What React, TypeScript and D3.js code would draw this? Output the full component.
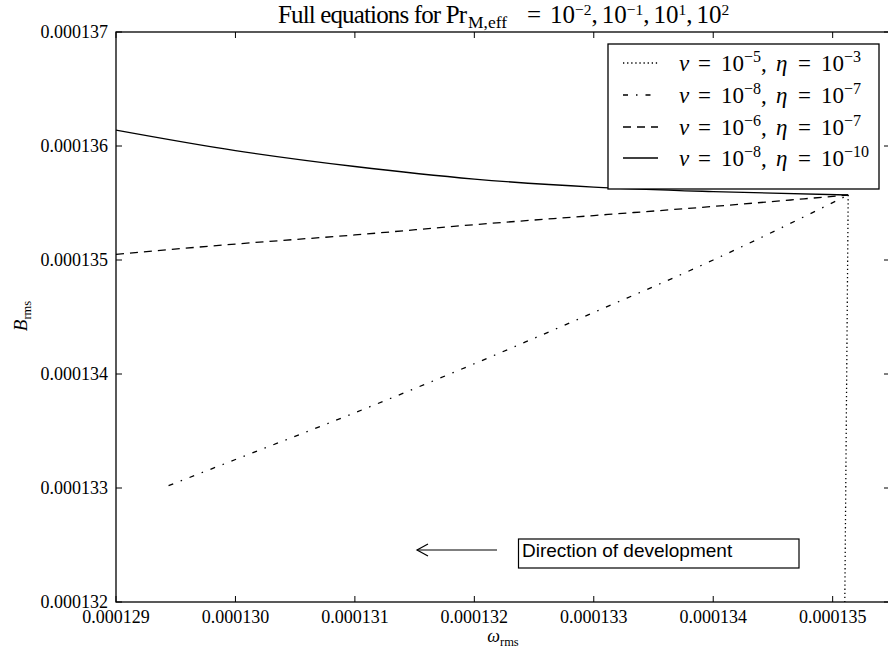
import React from "react";
import * as d3 from "d3";

// Axis ticks
const xTicks = [0.000129, 0.00013, 0.000131, 0.000132, 0.000133, 0.000134, 0.000135];
const yTicks = [0.000132, 0.000133, 0.000134, 0.000135, 0.000136, 0.000137];

// Series: nu=1e-5, eta=1e-3 (dotted)
const dottedX = [0.00013513, 0.0001351];
const dottedY = [0.00013557, 0.0001318];

// Series: nu=1e-8, eta=1e-7 (dash-dot)
const dashDotX = [0.00012944, 0.00013, 0.000131, 0.000132, 0.000133, 0.000134, 0.00013513];
const dashDotY = [0.00013302, 0.00013325, 0.00013366, 0.00013409, 0.00013454, 0.000135, 0.00013557];

// Series: nu=1e-6, eta=1e-7 (dashed)
const dashedX = [0.000129, 0.00013, 0.000131, 0.000132, 0.000133, 0.000134, 0.00013513];
const dashedY = [0.00013505, 0.00013514, 0.00013522, 0.00013531, 0.00013539, 0.00013547, 0.00013557];

// Series: nu=1e-8, eta=1e-10 (solid)
const solidX = [0.000129, 0.00013, 0.000131, 0.000132, 0.000133, 0.000134, 0.00013513];
const solidY = [0.00013614, 0.00013596, 0.00013582, 0.00013571, 0.00013564, 0.0001356, 0.00013557];

// Legend entries: exponents of nu and eta, and line dash pattern
const legendNu = ["−5", "−8", "−6", "−8"];
const legendEta = ["−3", "−7", "−7", "−10"];
const dashes = ["1.3,2.8", "5,8,1.5,8", "8,6", ""];

// Title exponents
const titleExps = ["−2", "−1", "1", "2"];

const SERIF = "'Liberation Serif', 'Times New Roman', serif";
const SANS = "'Liberation Sans', Arial, sans-serif";

const W = 888;
const H = 658;
const left = 116;
const right = 890;
const top = 32;
const bottom = 602;

export default function App() {
  const x = d3.scaleLinear().domain([0.000129, 0.00013548]).range([left, right]);
  const y = d3.scaleLinear().domain([0.000132, 0.000137]).range([bottom, top]);
  const fmt = d3.format(".6f");

  const mkLine = (xs: number[], ys: number[], curve: d3.CurveFactory) =>
    d3
      .line<number>()
      .x((_, i) => x(xs[i]))
      .y((v) => y(v))
      .curve(curve)(ys) || "";

  const series = [
    { d: mkLine(dottedX, dottedY, d3.curveLinear), dash: dashes[0] },
    { d: mkLine(dashDotX, dashDotY, d3.curveMonotoneX), dash: dashes[1] },
    { d: mkLine(dashedX, dashedY, d3.curveMonotoneX), dash: dashes[2] },
    { d: mkLine(solidX, solidY, d3.curveMonotoneX), dash: dashes[3] },
  ];

  const tickLen = 6;
  const lgX = 608;
  const lgY = 44;
  const lgW = 271;
  const lgH = 145;
  const rowY = [63, 95, 127, 158];

  const tFs = 25;
  const tSup = 15.5;
  const lFs = 23;
  const lSup = 16;

  return (
    <svg
      width={W}
      height={H}
      style={{ position: "absolute", left: 0, top: 0, background: "#fff", fontFamily: SERIF }}
    >
      <defs>
        <clipPath id="plotClip">
          <rect x={left} y={top} width={right - left} height={bottom - top} />
        </clipPath>
      </defs>
      <rect x={0} y={0} width={W} height={H} fill="#fff" />

      {/* title */}
      <text x={278} y={23} fontSize={tFs} fill="#000" textLength={189} lengthAdjust="spacing">
        Full equations for Pr
      </text>
      <text x={468} y={28} fontSize={17.5} fill="#000">M,eff</text>
      <text x={527} y={23} fontSize={tFs} fill="#000">=</text>
      <text x={550} y={23} fontSize={tFs} fill="#000">
        {titleExps.map((e, i) => (
          <React.Fragment key={e + i}>
            <tspan dx={i === 0 ? 0 : 4}>10</tspan>
            <tspan fontSize={tSup} dy={-8}>{e}</tspan>
            <tspan dy={8}>{i < titleExps.length - 1 ? "," : ""}</tspan>
          </React.Fragment>
        ))}
      </text>

      {/* data */}
      <g clipPath="url(#plotClip)">
        {series.map((s, i) => (
          <path
            key={i}
            d={s.d}
            fill="none"
            stroke="#000"
            strokeWidth={1.3}
            strokeDasharray={s.dash || undefined}
          />
        ))}
      </g>

      {/* axes frame */}
      <rect x={left} y={top} width={right - left} height={bottom - top} fill="none" stroke="#000" strokeWidth={1.3} />

      {/* x ticks */}
      {xTicks.map((t) => (
        <g key={"x" + t}>
          <line x1={x(t)} x2={x(t)} y1={bottom} y2={bottom - tickLen} stroke="#000" strokeWidth={1} />
          <line x1={x(t)} x2={x(t)} y1={top} y2={top + tickLen} stroke="#000" strokeWidth={1} />
          <text x={x(t)} y={623} textAnchor="middle" fontSize={18} fill="#000">
            {fmt(t)}
          </text>
        </g>
      ))}

      {/* y ticks */}
      {yTicks.map((t) => (
        <g key={"y" + t}>
          <line x1={left} x2={left + tickLen} y1={y(t)} y2={y(t)} stroke="#000" strokeWidth={1} />
          <line x1={right} x2={right - tickLen} y1={y(t)} y2={y(t)} stroke="#000" strokeWidth={1} />
          <text x={108} y={y(t) + 5.5} textAnchor="end" fontSize={18} fill="#000">
            {fmt(t)}
          </text>
        </g>
      ))}

      {/* axis labels */}
      <text x={503} y={642} textAnchor="middle" fontSize={18} fill="#000">
        <tspan fontStyle="italic">ω</tspan>
        <tspan fontSize={12.5} dy={4}>rms</tspan>
      </text>
      <text transform="translate(27,316) rotate(-90)" textAnchor="middle" fontSize={19} fill="#000">
        <tspan fontStyle="italic">B</tspan>
        <tspan fontSize={12.5} dy={4}>rms</tspan>
      </text>

      {/* legend */}
      <rect x={lgX} y={lgY} width={lgW} height={lgH} fill="#fff" stroke="#000" strokeWidth={1.3} />
      {legendNu.map((nu, i) => {
        const by = rowY[i] + 7.5;
        return (
          <g key={"lg" + i}>
            <line
              x1={623}
              x2={658}
              y1={rowY[i]}
              y2={rowY[i]}
              stroke="#000"
              strokeWidth={1.3}
              strokeDasharray={dashes[i] || undefined}
            />
            <text y={by} fontSize={lFs} fill="#000">
              <tspan x={679} fontStyle="italic">ν</tspan>
              <tspan x={698}>=</tspan>
              <tspan x={721}>10</tspan>
              <tspan fontSize={lSup} dy={-9}>{nu}</tspan>
              <tspan dy={9}>,</tspan>
              <tspan x={776} fontStyle="italic">η</tspan>
              <tspan x={798}>=</tspan>
              <tspan x={821}>10</tspan>
              <tspan fontSize={lSup} dy={-9}>{legendEta[i]}</tspan>
            </text>
          </g>
        );
      })}

      {/* annotation */}
      <line x1={497} x2={417} y1={550} y2={550} stroke="#000" strokeWidth={1.2} />
      <path d="M428,544 L417,550 L428,556" fill="none" stroke="#000" strokeWidth={1.2} />
      <rect x={518.5} y={539} width={280.5} height={29} fill="#fff" stroke="#000" strokeWidth={1.2} />
      <text x={522} y={557} fontFamily={SANS} fontSize={19} fill="#000">
        Direction of development
      </text>
    </svg>
  );
}
